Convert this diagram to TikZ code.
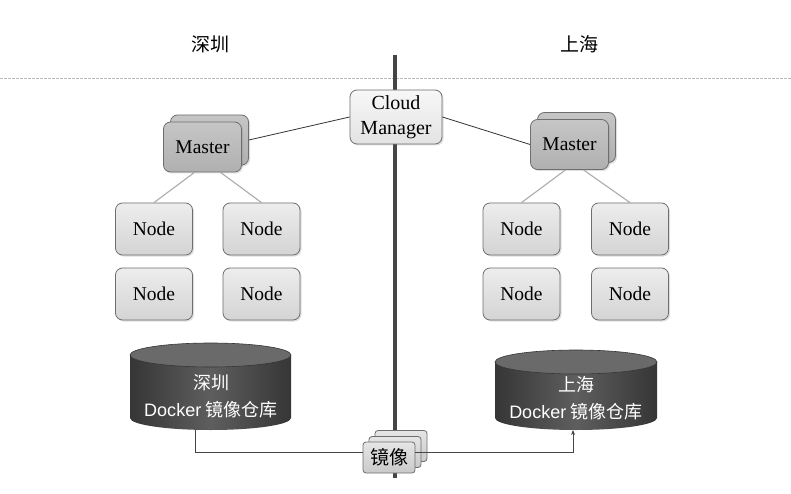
\documentclass[tikz,border=0pt]{standalone}
\usepackage{fontspec}
\setmainfont{Liberation Serif}
\newfontfamily\cjk{Noto Sans CJK SC}
\newfontfamily\arial{Liberation Sans}
\usetikzlibrary{arrows.meta,shadows}
\definecolor{edgegray}{HTML}{6E6E6E}
\definecolor{cylbody}{HTML}{363636}
\definecolor{cyltop}{HTML}{6A6A6A}
\definecolor{divcol}{HTML}{454545}
\begin{document}
\begin{tikzpicture}[x=1pt,y=-1pt,
  box/.style={draw=edgegray, line width=0.8pt, rounded corners=7pt,
    drop shadow={opacity=0.25, shadow xshift=1.5pt, shadow yshift=-1.5pt}},
  nodebox/.style={box, minimum width=77pt, minimum height=52pt,
    top color=gray!14, bottom color=gray!34, font=\fontsize{19.5}{21}\selectfont},
  masterbox/.style={box, minimum width=78pt, minimum height=50pt,
    top color=gray!45, bottom color=gray!62, font=\fontsize{19.5}{21}\selectfont},
  cmbox/.style={box, minimum width=92pt, minimum height=54pt, align=center,
    top color=gray!6, bottom color=gray!22, font=\fontsize{20}{25}\selectfont},
  mirrorbox/.style={draw=edgegray, line width=0.8pt, rounded corners=3pt,
    minimum width=52pt, minimum height=31pt, top color=gray!20, bottom color=gray!42,
    font=\cjk\fontsize{19}{21}\selectfont, inner sep=1pt},
  title/.style={font=\cjk\fontsize{19}{21}\selectfont},
  repotext/.style={text=white, align=center, font=\fontsize{18}{27}\selectfont},
  tree/.style={draw=gray!65, line width=1.1pt},
  cmlink/.style={draw=gray!40!black, line width=0.8pt},
  flow/.style={draw=gray!55!black, line width=0.7pt},
  divider/.style={draw=divcol, line width=3.5pt},
  rule/.style={draw=gray!55, line width=0.5pt, dash pattern=on 2.5pt off 1.5pt}
]
\useasboundingbox[fill=white] (0,0) rectangle (791,494);

% page rule
\coordinate (rl) at (0,78);
\coordinate (rr) at (791,78);
\draw[rule] (rl) -- (rr);

% divider
\coordinate (vtop) at (395,55);
\coordinate (vbot) at (395,478);
\draw[divider] (vtop) -- (vbot);

% titles
\node[title] (tsz) at (210,44) {深圳};
\node[title] (tsh) at (579,44) {上海};

% cloud manager
\node[cmbox] (cm) at (396,117) {Cloud\\Manager};

% masters
\node[masterbox] (smback) at (209.5,140) {};
\node[masterbox] (sm) at (202.5,147) {Master};
\node[masterbox] (rmback) at (576.5,137.5) {};
\node[masterbox] (rm) at (569.5,144.5) {Master};

% nodes
\node[nodebox] (sn1) at (154,229) {Node};
\node[nodebox] (sn2) at (261.5,229) {Node};
\node[nodebox] (sn3) at (154,294) {Node};
\node[nodebox] (sn4) at (261.5,294) {Node};
\node[nodebox] (rn1) at (521.5,229) {Node};
\node[nodebox] (rn2) at (630,229) {Node};
\node[nodebox] (rn3) at (521.5,294) {Node};
\node[nodebox] (rn4) at (630,294) {Node};

% links
\draw[cmlink] (cm.west) -- (smback.east);
\draw[cmlink] (cm.east) -- (rm.west);
\draw[tree] ([xshift=-8pt]sm.south) -- (sn1.north);
\draw[tree] ([xshift=18pt]sm.south) -- (sn2.north);
\draw[tree] ([xshift=-4pt]rm.south) -- (rn1.north);
\draw[tree] ([xshift=14pt]rm.south) -- (rn2.north);

% left repository cylinder
\shade[left color=cylbody, right color=cylbody, middle color=cylbody!80!white]
  (130,355) -- (130,418) arc[start angle=180, end angle=360, x radius=80.5pt, y radius=12pt] -- (291,355) -- cycle;
\filldraw[fill=cyltop, draw=cylbody, line width=0.6pt] (210.5,355) ellipse [x radius=80.5pt, y radius=12pt];
\node[repotext] (szrepo) at (211,396) {{\cjk 深圳}\\{\arial Docker} {\cjk 镜像仓库}};
\coordinate (szb) at (195,430);

% right repository cylinder
\shade[left color=cylbody, right color=cylbody, middle color=cylbody!80!white]
  (495,362) -- (495,418) arc[start angle=180, end angle=360, x radius=81pt, y radius=12pt] -- (657,362) -- cycle;
\filldraw[fill=cyltop, draw=cylbody, line width=0.6pt] (576,362) ellipse [x radius=81pt, y radius=12pt];
\node[repotext] (shrepo) at (576,398) {{\cjk 上海}\\{\arial Docker} {\cjk 镜像仓库}};
\coordinate (shb) at (573,430);

% mirror stack
\node[mirrorbox] (imgb2) at (401,446) {};
\node[mirrorbox] (imgb1) at (395,452) {};
\node[mirrorbox] (img) at (389,457.5) {镜像};

% flow
\draw[flow] (szb) |- ([yshift=5pt]img.west);
\draw[flow, -{Stealth[length=5pt,width=4pt]}] ([yshift=5pt]img.east) -| (shb);
\end{tikzpicture}
\end{document}
